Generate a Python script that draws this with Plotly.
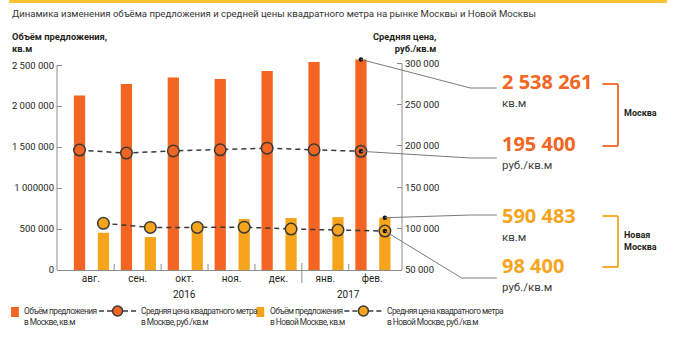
import plotly.graph_objects as go

# ---------------- data ----------------
months = ["авг.", "сен.", "окт.", "ноя.", "дек.", "янв.", "фев."]
years = ["2016", "2017"]
months_per_year = [5, 2]
msk_volume = [2130000, 2270000, 2350000, 2330000, 2430000, 2540000, 2570000]
nm_volume = [455000, 402000, 510000, 622000, 634000, 646000, 638000]
msk_price = [195000, 191300, 194000, 195300, 197300, 195300, 193500]
nm_price = [106400, 101500, 101500, 101800, 99500, 98300, 97100]
y1_ticks = [0, 500000, 1000000, 1500000, 2000000, 2500000]
y1_labels = ["0", "500 000", "1 000000", "1 500 000", "2 000 000", "2 500 000"]
y2_ticks = [50000, 100000, 150000, 200000, 250000, 300000]
y2_labels = ["50 000", "100 000", "150 000", "200 000", "250 000", "300 000"]
callout_values = ["2 538 261", "195 400", "590 483", "98 400"]
callout_units = ["кв.м", "руб./кв.м", "кв.м", "руб./кв.м"]
legend_labels = [["Объём предложения", "в Москве, кв.м"],
                 ["Средняя цена квадратного метра", "в Москве, руб./кв.м"],
                 ["Объём предложения", "в Новой Москве, кв.м"],
                 ["Средняя цена квадратного метра", "в Новой Москве, руб./кв.м"]]
title = "Динамика изменения объёма предложения и средней цены квадратного метра на рынке Москвы и Новой Москвы"

# ---------------- style ----------------
ORANGE = "#F26522"
YELLOW = "#F7A41D"
DARK = "#3a3a3a"
TXT = "#231F20"
AXIS = "#8c8c8c"
LEAD = "#7a7a7a"
FONT = "Roboto"
W, H = 673, 352
L, R, T, B = 49, 271, 57, 82
PW, PH = W - L - R, H - T - B
XR = [-0.72, 6.635]
Y1R = [0, 2600000]
Y2R = [50000, 307500]
MSK_OFF, NM_OFF, BAR_W = -0.24, 0.27, 0.24


def fx(px):
    return (px - L) / PW


def fy(py):
    return (H - B - py) / PH


def dx(v):
    return (v - XR[0]) / (XR[1] - XR[0])


def dy1(v):
    return (v - Y1R[0]) / (Y1R[1] - Y1R[0])


def dy2(v):
    return (v - Y2R[0]) / (Y2R[1] - Y2R[0])


idx = list(range(len(months)))
xm = [i + MSK_OFF for i in idx]
xn = [i + NM_OFF for i in idx]

fig = go.Figure()
fig.add_trace(go.Bar(x=xm, y=msk_volume, width=BAR_W, marker=dict(color=ORANGE, line=dict(width=0)),
                     name=legend_labels[0][0]))
fig.add_trace(go.Bar(x=xn, y=nm_volume, width=BAR_W, marker=dict(color=YELLOW, line=dict(width=0)),
                     name=legend_labels[2][0]))
fig.add_trace(go.Scatter(x=xm, y=msk_price, yaxis="y2", mode="lines+markers",
                         line=dict(color=DARK, width=1.5, dash="5px,4px"),
                         marker=dict(size=11.5, color=ORANGE, line=dict(color=DARK, width=1.5)),
                         name=legend_labels[1][0]))
fig.add_trace(go.Scatter(x=xn, y=nm_price, yaxis="y2", mode="lines+markers",
                         line=dict(color=DARK, width=1.5, dash="5px,4px"),
                         marker=dict(size=11.5, color=YELLOW, line=dict(color=DARK, width=1.5)),
                         name=legend_labels[3][0]))
# callout dots at the last values
fig.add_trace(go.Scatter(x=[xm[-1], xn[-1]], y=[msk_volume[-1], nm_volume[-1]], mode="markers",
                         marker=dict(size=4.5, color="#111"), hoverinfo="skip"))
fig.add_trace(go.Scatter(x=[xm[-1], xn[-1]], y=[msk_price[-1], nm_price[-1]], yaxis="y2", mode="markers",
                         marker=dict(size=4.5, color="#111"), hoverinfo="skip"))

shapes = []
annotations = []


def text(px, py, s, size=10, color=TXT, anchor="left", bold=False, family=FONT):
    annotations.append(dict(xref="paper", yref="paper", x=fx(px), y=fy(py), text=("<b>%s</b>" % s) if bold else s,
                            showarrow=False, xanchor=anchor, yanchor="middle", align=anchor,
                            font=dict(family=family, size=size, color=color), borderpad=0))


def seg(x0, y0, x1, y1, color=LEAD, width=1, dash=None):
    ln = dict(color=color, width=width)
    if dash:
        ln["dash"] = dash
    shapes.append(dict(type="line", xref="paper", yref="paper", x0=x0, y0=y0, x1=x1, y1=y1, line=ln))


# top yellow band
shapes.append(dict(type="rect", xref="paper", yref="paper", x0=fx(0), x1=fx(W), y0=fy(0), y1=fy(3),
                   fillcolor="#FBC32F", line=dict(width=0), layer="above"))
# y axis lines
seg(0, 0, 0, dy1(y1_ticks[-1]), color=AXIS)
seg(1, 0, 1, dy2(y2_ticks[-1]), color=AXIS)
# category separators
year_break = months_per_year[0] - 0.5
for i in idx[:-1]:
    b = i + 0.5
    if b == year_break:
        seg(dx(b), fy(283), dx(b), fy(263), color=AXIS)
    else:
        seg(dx(b), 0, dx(b), fy(264), color=AXIS)

# year labels
start = 0
for yname, n in zip(years, months_per_year):
    center = start + (n - 1) / 2
    annotations.append(dict(xref="paper", yref="paper", x=dx(center), y=fy(294), text=yname, showarrow=False,
                            xanchor="center", yanchor="middle", font=dict(family=FONT, size=10, color=TXT)))
    start += n

# title and axis titles
text(2, 14, title, size=9.6, color="#333")
text(2, 42, "Объём предложения,<br>кв.м", size=9.3, bold=True)
text(438, 42, "Средняя цена,<br>руб./кв.м", size=9.3, bold=True, anchor="right")

# callouts: leader lines from last data points
starts = [(dx(xm[-1]), dy1(msk_volume[-1])), (dx(xm[-1]), dy2(msk_price[-1])),
          (dx(xn[-1]), dy1(nm_volume[-1])), (dx(xn[-1]), dy2(nm_price[-1]))]
bends = [(472, 88), (472, 158), (472, 215), (463, 278)]
colors = [ORANGE, ORANGE, YELLOW, YELLOW]
for (sx, sy), (bx, by) in zip(starts, bends):
    seg(sx, sy, fx(bx), fy(by))
    seg(fx(bx), fy(by), fx(499), fy(by))
value_y = [84, 146, 218, 268]
for v, u, c, vy in zip(callout_values, callout_units, colors, value_y):
    s = ("<span style='font-family:Open Sans;font-size:20px;font-weight:bold;color:%s'>%s</span><br>"
         "<span style='font-size:11.5px;color:#3c3c3c'>%s</span>" % (c, v, u))
    annotations.append(dict(xref="paper", yref="paper", x=fx(503), y=fy(vy - 17), text=s, showarrow=False,
                            xanchor="left", yanchor="top", align="left", borderpad=0,
                            font=dict(family=FONT, size=13.6, color="#3c3c3c")))

# brackets
for (ytop, ybot, c) in [(84, 146, ORANGE), (216, 267, YELLOW)]:
    seg(fx(607), fy(ytop), fx(623), fy(ytop), color=c, width=1.8)
    seg(fx(623), fy(ytop), fx(623), fy(ybot), color=c, width=1.8)
    seg(fx(607), fy(ybot), fx(623), fy(ybot), color=c, width=1.8)
text(628, 113, "Москва", size=9, bold=True)
text(628, 240.5, "Новая<br>Москва", size=9, bold=True)

# legend (drawn manually)
LEG_Y = 311
for (x0, c) in [(2, ORANGE), (253, YELLOW)]:
    shapes.append(dict(type="rect", xref="paper", yref="paper", x0=fx(x0), x1=fx(x0 + 8), y0=fy(307), y1=fy(317),
                       fillcolor=c, line=dict(width=0)))
for (x0, x1, c) in [(92, 130, ORANGE), (343, 382, YELLOW)]:
    seg(fx(x0), fy(LEG_Y), fx(x1), fy(LEG_Y), color=DARK, width=1.5, dash="5px,3px")
    cx = (x0 + x1) / 2
    shapes.append(dict(type="circle", xref="paper", yref="paper", xsizemode="pixel", ysizemode="pixel",
                       xanchor=fx(cx), yanchor=fy(LEG_Y), x0=-5, x1=5, y0=-5, y1=5,
                       fillcolor=c, line=dict(color=DARK, width=1.5)))
for lx, lines in zip([14, 134, 266, 386], legend_labels):
    s = "<br>".join("<span style='letter-spacing:-0.55px'>%s</span>" % ln for ln in lines)
    text(lx, 316.5, s, size=8.4, color="#333")

fig.update_layout(
    width=W, height=H, margin=dict(l=L, r=R, t=T, b=B, pad=0),
    paper_bgcolor="white", plot_bgcolor="white", showlegend=False, barmode="overlay",
    font=dict(family=FONT, color=TXT),
    xaxis=dict(range=XR, tickvals=idx, ticktext=months, showline=True, linecolor=AXIS, linewidth=1,
               ticks="", showgrid=False, zeroline=False, tickfont=dict(size=10, color=TXT),
               ticklabelstandoff=-1),
    yaxis=dict(range=Y1R, tickvals=y1_ticks, ticktext=y1_labels, ticks="inside", ticklen=5, tickcolor=AXIS,
               showline=False, showgrid=False, zeroline=False, tickfont=dict(size=9.5, color=TXT),
               ticklabelstandoff=2),
    yaxis2=dict(range=Y2R, tickvals=y2_ticks, ticktext=y2_labels, overlaying="y", side="right",
                ticks="inside", ticklen=5, tickcolor=AXIS, showline=False, showgrid=False, zeroline=False,
                tickfont=dict(size=9.5, color=TXT), ticklabelstandoff=2),
    shapes=shapes, annotations=annotations,
)
fig.write_html("out.html")
